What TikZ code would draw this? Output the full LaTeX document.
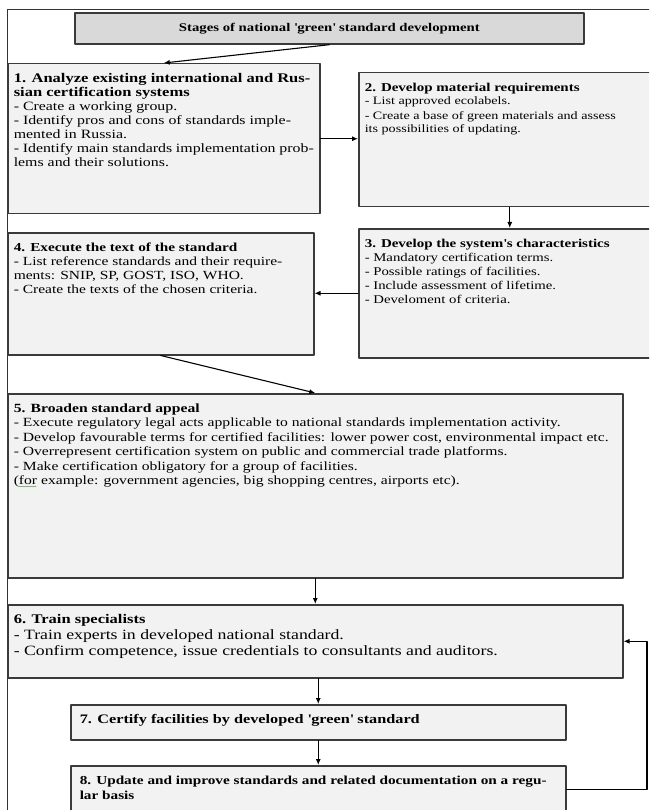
\documentclass[tikz,border=0pt]{standalone}
\usepackage{fontspec}
\setmainfont{Liberation Serif}[FakeStretch=1.25]
\usetikzlibrary{arrows.meta, decorations.pathmorphing}
\definecolor{boxfill}{HTML}{F2F2F2}
\definecolor{titlefill}{HTML}{D9D9D9}
\definecolor{boxline}{HTML}{3A3A3A}
\definecolor{spellmark}{HTML}{4E9A3C}
\newcommand{\stagepar}[3]{\parbox[t][#2][t]{#1}{\raggedright #3}}
\newcommand{\q}{\textquotesingle}
\tikzset{
    stagebox/.style={draw=boxline, fill=boxfill, line width=1.5pt, anchor=north west, inner xsep=6pt, inner ysep=10pt},
    titlebox/.style={draw=boxline, fill=titlefill, line width=1.7pt, anchor=north west, minimum width=509pt, minimum height=31pt, inner sep=0pt, font=\bfseries\fontsize{11.8}{13}\selectfont},
    flow/.style={line width=1.1pt, -{Latex[length=6pt, width=5pt]}}
}
\begin{document}
\begin{tikzpicture}[line cap=round, line join=round, x=1pt, y=-1pt]
                \useasboundingbox (0, 0) rectangle (649, 810);
                \clip (0, 0) rectangle (649, 810);
                % outer frame
                \draw[line width=0.8pt, black!80] (649, 9) -- (7, 9) -- (7, 812);
                \node[titlebox] (title) at (74, 12) {Stages of national \q green\q{} standard development};
                \node[stagebox] (s1) at (7, 63) {\stagepar{300pt}{130pt}{\fontsize{12.7}{14}\selectfont
                    {\bfseries\fontsize{13.2}{14}\selectfont 1. Analyze existing international and Rus-}\\
                    {\bfseries\fontsize{13.2}{14}\selectfont sian certification systems}\\
                    - Create a working group.\\
                    - Identify pros and cons of standards imple-\\
                    mented in Russia.\\
                    - Identify main standards implementation prob-\\
                    lems and their solutions.}};
                \node[stagebox] (s2) at (358, 72) {\stagepar{290pt}{114pt}{\fontsize{11.3}{13.5}\selectfont
                    {\bfseries\fontsize{12}{13.5}\selectfont 2. Develop material requirements}\\
                    - List approved ecolabels.\\[1pt]
                    - Create a base of green materials and assess\\
                    its possibilities of updating.}};
                \node[stagebox] (s3) at (358, 228) {\stagepar{290pt}{109pt}{\fontsize{11.8}{14}\selectfont
                    {\bfseries\fontsize{12}{14}\selectfont 3. Develop the system\q s characteristics}\\
                    - Mandatory certification terms.\\
                    - Possible ratings of facilities.\\
                    - Include assessment of lifetime.\\
                    - Develoment of criteria.}};
                \node[stagebox] (s4) at (7, 232) {\stagepar{294pt}{102pt}{\fontsize{12.4}{14}\selectfont
                    {\bfseries\fontsize{12.2}{14}\selectfont 4. Execute the text of the standard}\\
                    - List reference standards and their require-\\
                    ments: SNIP, SP, GOST, ISO, WHO.\\
                    - Create the texts of the chosen criteria.}};
                \node[stagebox] (s5) at (7, 393) {\stagepar{603pt}{164pt}{\fontsize{12.5}{14.4}\selectfont
                    {\bfseries 5. Broaden standard appeal}\\
                    - Execute regulatory legal acts applicable to national standards implementation activity.\\
                    - Develop favourable terms for certified facilities: lower power cost, environmental impact etc.\\
                    - Overrepresent certification system on public and commercial trade platforms.\\
                    - Make certification obligatory for a group of facilities.\\
                    (for example: government agencies, big shopping centres, airports etc).}};
                % spelling mark under "for"
                \draw[spellmark, line width=0.5pt, decorate, decoration={snake, amplitude=0.5pt, segment length=2pt}] (18.5, 486.5) -- (36, 486.5);
                \node[stagebox] (s6) at (7, 604) {\stagepar{603pt}{53pt}{\fontsize{14.2}{16}\selectfont
                    {\bfseries\fontsize{13.2}{16}\selectfont 6. Train specialists}\\
                    - Train experts in developed national standard.\\
                    - Confirm competence, issue credentials to consultants and auditors.}};
                \node[stagebox, inner xsep=9pt] (s7) at (70, 704) {\stagepar{477pt}{15pt}{\fontsize{13}{14}\selectfont
                    \textbf{7. Certify facilities by developed \q green\q{} standard}}};
                \node[stagebox, inner xsep=9pt] (s8) at (70, 765) {\stagepar{477pt}{27pt}{\fontsize{12.2}{15}\selectfont
                    \textbf{8. Update and improve standards and related documentation on a regu-}\\
                    \textbf{lar basis}}};
                \coordinate (rail) at (647, 0);
                % connectors
                \draw[flow] (title.south) -- (s1.north);
                \draw[flow] (s1.east) -- (s1.east -| s2.west);
                \draw[flow] (s3.west) -- (s3.west -| s4.east);
                \draw[flow] (s4.south) -- (s5.north);
                \foreach \a/\b in {s2/s3, s5/s6, s6/s7, s7/s8}
                    \draw[flow] (\b.north |- \a.south) -- (\b.north);
                \draw[flow] (s8.east) -- (s8.east -| rail) |- (s6.east);
            \end{tikzpicture}
\end{document}
